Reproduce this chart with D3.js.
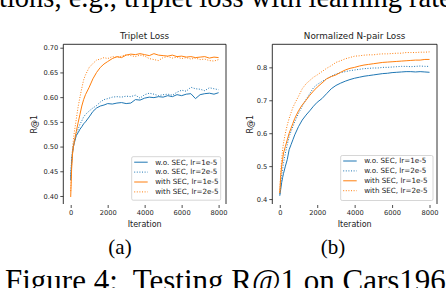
<!DOCTYPE html>
<html lang="en">
<head>
<meta charset="UTF-8">
<title>Testing R@1 on Cars196</title>
<script src="https://d3js.org/d3.v7.min.js"></script>
<style>
  body { margin: 0; background: #fff; }
  svg { display: block; }
  .serif { font-family: "Liberation Serif", "Times New Roman", serif; fill: #000; white-space: pre; }
  .sans { font-family: "DejaVu Sans", sans-serif; fill: #222; }
</style>
</head>
<body>
<script>
// iterations shared by every curve
var iterations = [0, 50, 100, 150, 200, 300, 400, 500, 600, 700, 800, 1000, 1200, 1400, 1600, 1800, 2000,
    2250, 2500, 2750, 3000, 3250, 3500, 3750, 4000, 4250, 4500, 4750, 5000, 5250, 5500, 5750, 6000,
    6250, 6500, 6750, 7000, 7250, 7500, 7750, 8000];

// (a) Triplet loss
var tripletWo1 = [0.432, 0.468, 0.488, 0.500, 0.508, 0.522, 0.528, 0.535, 0.540, 0.546, 0.550, 0.560, 0.571, 0.578, 0.582, 0.584, 0.587,
    0.586, 0.588, 0.589, 0.587, 0.588, 0.595, 0.594, 0.598, 0.600, 0.599, 0.601, 0.600, 0.603, 0.601, 0.605, 0.603,
    0.606, 0.607, 0.597, 0.605, 0.607, 0.608, 0.606, 0.609];
var tripletWo2 = [0.440, 0.475, 0.492, 0.505, 0.512, 0.525, 0.535, 0.545, 0.552, 0.560, 0.565, 0.572, 0.578, 0.583, 0.590, 0.595, 0.597,
    0.600, 0.601, 0.600, 0.602, 0.601, 0.604, 0.598, 0.605, 0.608, 0.606, 0.603, 0.605, 0.606, 0.604, 0.610, 0.614,
    0.612, 0.620, 0.617, 0.616, 0.613, 0.619, 0.617, 0.615];
var tripletWith1 = [0.398, 0.455, 0.485, 0.500, 0.510, 0.530, 0.548, 0.565, 0.582, 0.595, 0.605, 0.620, 0.637, 0.650, 0.660, 0.667, 0.672,
    0.678, 0.682, 0.680, 0.685, 0.687, 0.686, 0.688, 0.686, 0.684, 0.688, 0.685, 0.684, 0.683, 0.685, 0.682, 0.683,
    0.681, 0.682, 0.680, 0.681, 0.682, 0.679, 0.681, 0.680];
var tripletWith2 = [0.410, 0.462, 0.495, 0.515, 0.530, 0.555, 0.580, 0.600, 0.618, 0.635, 0.645, 0.660, 0.668, 0.675, 0.677, 0.680, 0.678,
    0.682, 0.680, 0.683, 0.686, 0.684, 0.682, 0.685, 0.683, 0.678, 0.676, 0.674, 0.680, 0.682, 0.679, 0.681, 0.678,
    0.680, 0.677, 0.679, 0.676, 0.677, 0.674, 0.673, 0.676];

// (b) Normalized N-pair loss
var npairWo1 = [0.410, 0.430, 0.450, 0.465, 0.478, 0.500, 0.520, 0.550, 0.565, 0.580, 0.595, 0.620, 0.640, 0.655, 0.668, 0.682, 0.694,
    0.705, 0.720, 0.735, 0.745, 0.752, 0.758, 0.763, 0.767, 0.770, 0.773, 0.775, 0.777, 0.779, 0.781, 0.782, 0.784,
    0.785, 0.786, 0.787, 0.787, 0.786, 0.787, 0.786, 0.785];
var npairWo2 = [0.415, 0.445, 0.470, 0.490, 0.510, 0.540, 0.565, 0.590, 0.605, 0.620, 0.635, 0.660, 0.682, 0.702, 0.720, 0.738, 0.748,
    0.757, 0.765, 0.773, 0.780, 0.784, 0.787, 0.790, 0.792, 0.794, 0.796, 0.797, 0.798, 0.798, 0.800, 0.800, 0.801,
    0.802, 0.803, 0.803, 0.802, 0.803, 0.804, 0.803, 0.803];
var npairWith1 = [0.418, 0.470, 0.500, 0.520, 0.540, 0.560, 0.580, 0.600, 0.615, 0.630, 0.645, 0.668, 0.686, 0.700, 0.715, 0.728, 0.740,
    0.752, 0.765, 0.772, 0.777, 0.785, 0.792, 0.797, 0.800, 0.804, 0.807, 0.809, 0.811, 0.813, 0.815, 0.816, 0.817,
    0.818, 0.819, 0.820, 0.821, 0.822, 0.822, 0.824, 0.824];
var npairWith2 = [0.420, 0.480, 0.520, 0.550, 0.570, 0.600, 0.625, 0.645, 0.662, 0.678, 0.690, 0.712, 0.735, 0.750, 0.760, 0.770, 0.777,
    0.787, 0.797, 0.805, 0.815, 0.820, 0.826, 0.830, 0.834, 0.835, 0.837, 0.838, 0.838, 0.840, 0.841, 0.841, 0.842,
    0.843, 0.843, 0.845, 0.845, 0.845, 0.846, 0.846, 0.847];

var seriesNames = ['w.o. SEC, lr=1e-5', 'w.o. SEC, lr=2e-5', 'with SEC, lr=1e-5', 'with SEC, lr=2e-5'];
var xTicks = [0, 2000, 4000, 6000, 8000];
var tripletTicks = [0.40, 0.45, 0.50, 0.55, 0.60, 0.65, 0.70];
var npairTicks = [0.4, 0.5, 0.6, 0.7, 0.8];

var colors = ['#1f77b4', '#1f77b4', '#ff7f0e', '#ff7f0e'];
var dashes = [null, '1,1.6', null, '1,1.6'];

var w = 446, h = 288;
var svg = d3.select('body').append('svg')
    .attr('width', w)
    .attr('height', h)
    .style('background', '#fff');

// bits of the paper page around the figure
svg.append('text').attr('class', 'serif')
    .attr('x', -1).attr('y', 6.5)
    .attr('font-size', '28.5px')
    .text('tions, e.g., triplet loss with learning rate');
svg.append('text').attr('class', 'serif')
    .attr('x', 120).attr('y', 254).attr('text-anchor', 'middle')
    .attr('font-size', '21px')
    .text('(a)');
svg.append('text').attr('class', 'serif')
    .attr('x', 333).attr('y', 254).attr('text-anchor', 'middle')
    .attr('font-size', '21px')
    .text('(b)');
svg.append('text').attr('class', 'serif')
    .attr('x', 5).attr('y', 291)
    .attr('font-size', '31px')
    .text('Figure 4:  Testing R@1 on Cars196.');

var panels = [
    {title: 'Triplet Loss', series: [tripletWo1, tripletWo2, tripletWith1, tripletWith2],
     yDomain: [0.3838, 0.7069], yTicks: tripletTicks, fmt: '.2f',
     left: 63.3, right: 226, ylabX: 37, legX: 131.7, legY: 156.7, legW: 89, legH: 43.5},
    {title: 'Normalized N-pair Loss', series: [npairWo1, npairWo2, npairWith1, npairWith2],
     yDomain: [0.385, 0.870], yTicks: npairTicks, fmt: '.1f',
     left: 272.3, right: 437, ylabX: 253, legX: 340.7, legY: 155.5, legW: 92.3, legH: 45}
];
var plotTop = 44.3, plotBottom = 204;

panels.forEach(function(p) {
    var x = d3.scaleLinear().domain([-400, 8400]).range([p.left, p.right]);
    var y = d3.scaleLinear().domain(p.yDomain).range([plotBottom, plotTop]);
    var g = svg.append('g');

    var line = d3.line()
        .x(function(d, i) { return x(iterations[i]); })
        .y(function(d) { return y(d); });

    p.series.forEach(function(s, k) {
        g.append('path')
            .datum(s)
            .attr('d', line)
            .attr('fill', 'none')
            .attr('stroke', colors[k])
            .attr('stroke-width', 1)
            .attr('stroke-dasharray', dashes[k]);
    });

    // spines: left, top, right (no bottom one)
    g.append('path')
        .attr('d', 'M' + p.left + ',' + plotBottom + 'V' + plotTop + 'H' + p.right + 'V' + plotBottom)
        .attr('fill', 'none')
        .attr('stroke', '#000')
        .attr('stroke-width', 0.8);

    var yAxis = g.append('g')
        .attr('transform', 'translate(' + p.left + ',0)')
        .call(d3.axisLeft(y).tickValues(p.yTicks).tickFormat(d3.format(p.fmt)).tickSize(3).tickPadding(2));
    var xAxis = g.append('g')
        .attr('transform', 'translate(0,' + (plotBottom + 1) + ')')
        .call(d3.axisBottom(x).tickValues(xTicks).tickFormat(d3.format('d')).tickSize(3).tickPadding(2));
    [yAxis, xAxis].forEach(function(a) {
        a.select('.domain').remove();
        a.selectAll('line').attr('stroke', '#222').attr('stroke-width', 0.8);
        a.selectAll('text')
            .attr('font-family', '"DejaVu Sans", sans-serif')
            .attr('font-size', '6.7px')
            .attr('fill', '#222');
    });

    g.append('text').attr('class', 'sans')
        .attr('x', (p.left + p.right) / 2).attr('y', 38.5)
        .attr('text-anchor', 'middle')
        .attr('font-size', '8.8px')
        .text(p.title);
    g.append('text').attr('class', 'sans')
        .attr('x', (p.left + p.right) / 2).attr('y', 226.5)
        .attr('text-anchor', 'middle')
        .attr('font-size', '8px')
        .text('Iteration');
    g.append('text').attr('class', 'sans')
        .attr('transform', 'translate(' + p.ylabX + ',' + ((plotTop + plotBottom) / 2) + ') rotate(-90)')
        .attr('text-anchor', 'middle')
        .attr('font-size', '8px')
        .text('R@1');

    // legend
    var leg = g.append('g').attr('transform', 'translate(' + p.legX + ',' + p.legY + ')');
    leg.append('rect')
        .attr('width', p.legW).attr('height', p.legH)
        .attr('rx', 1.5)
        .attr('fill', 'rgba(255,255,255,0.8)')
        .attr('stroke', '#ccc')
        .attr('stroke-width', 0.8);
    seriesNames.forEach(function(name, k) {
        var ly = 5.5 + k * 9.9;
        leg.append('line')
            .attr('x1', 2.5).attr('x2', 16)
            .attr('y1', ly).attr('y2', ly)
            .attr('stroke', colors[k])
            .attr('stroke-width', 1)
            .attr('stroke-dasharray', dashes[k]);
        leg.append('text').attr('class', 'sans')
            .attr('x', 23.5).attr('y', ly + 2.4)
            .attr('font-size', '7.2px')
            .text(name);
    });
});
</script>
</body>
</html>
